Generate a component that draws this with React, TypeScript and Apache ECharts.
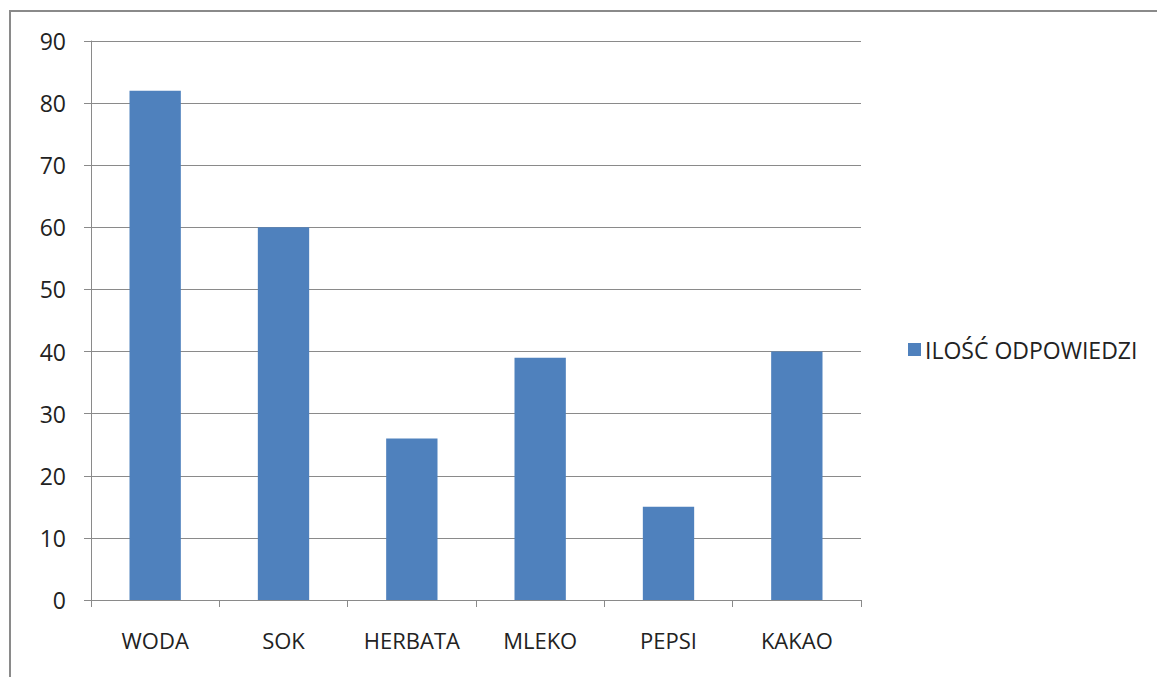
import React, { useEffect, useRef } from "react";
import * as echarts from "echarts";

const categories = ["WODA", "SOK", "HERBATA", "MLEKO", "PEPSI", "KAKAO"];
const values = [82, 60, 26, 39, 15, 40];
const seriesName = "ILOŚĆ ODPOWIEDZI";

export default function App() {
  const ref = useRef<HTMLDivElement>(null);
  useEffect(() => {
    const chart = echarts.init(ref.current!, null, { renderer: "svg" });
    const font = "'Open Sans', 'Noto Sans', sans-serif";
    chart.setOption({
      animation: false,
      backgroundColor: "#ffffff",
      textStyle: { fontFamily: font },
      grid: { left: 91, right: 296, top: 41, bottom: 77, containLabel: false },
      legend: {
        data: [seriesName],
        left: 903,
        top: 333,
        icon: "rect",
        itemWidth: 13,
        itemHeight: 13,
        itemGap: 8,
        textStyle: { fontSize: 23, color: "#222", fontFamily: font, padding: [0, 0, 0, -1] },
      },
      graphic: [
        {
          type: "polyline",
          shape: { points: [[10, 677], [10, 11], [1157, 11]] },
          style: { stroke: "#8a8a8a", lineWidth: 2, fill: "none" },
          silent: true,
        },
      ],
      xAxis: {
        type: "category",
        data: categories,
        axisLine: { lineStyle: { color: "#8a8a8a", width: 1 } },
        axisTick: { show: true, length: 7, lineStyle: { color: "#8a8a8a" } },
        axisLabel: { fontSize: 22, color: "#222", margin: 29, fontFamily: font },
      },
      yAxis: {
        type: "value",
        min: 0,
        max: 90,
        interval: 10,
        axisLine: { show: true, lineStyle: { color: "#8a8a8a", width: 1 } },
        axisTick: { show: true, length: 7, lineStyle: { color: "#8a8a8a" } },
        axisLabel: { fontSize: 23, color: "#222", margin: 25, fontFamily: font },
        splitLine: { show: true, lineStyle: { color: "#8a8a8a", width: 1 } },
      },
      series: [
        {
          name: seriesName,
          type: "bar",
          data: values,
          barWidth: "40%",
          itemStyle: { color: "#4F81BD" },
        },
      ],
    });
    return () => chart.dispose();
  }, []);
  return (
    <div style={{ position: "absolute", left: 0, top: 0, width: 1157, height: 677 }}>
      <div ref={ref} style={{ width: 1157, height: 677 }} />
    </div>
  );
}
